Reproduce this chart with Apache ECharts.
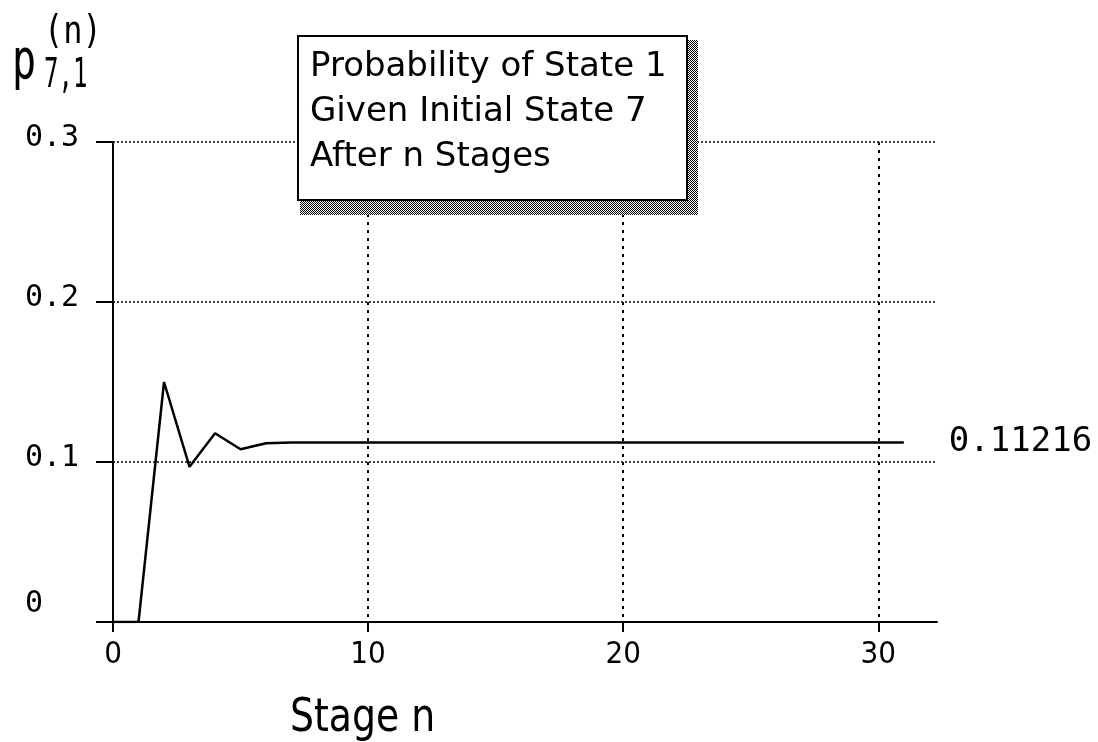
<!DOCTYPE html>
<html>
<head>
<meta charset="utf-8">
<script src="https://cdn.jsdelivr.net/npm/echarts@6/dist/echarts.min.js"></script>
<style>
html,body{margin:0;padding:0;background:#fff;}
#chart{width:1098px;height:742px;}
</style>
</head>
<body>
<div id="chart"></div>
<script>
// Data
const stages = [0,1,2,3,4,5,6,7,8,9,10,11,12,13,14,15,16,17,18,19,20,21,22,23,24,25,26,27,28,29,30,31];
const probability = [0,0,0.150,0.097,0.118,0.108,0.1117,0.11216,0.11216,0.11216,0.11216,0.11216,0.11216,0.11216,0.11216,0.11216,0.11216,0.11216,0.11216,0.11216,0.11216,0.11216,0.11216,0.11216,0.11216,0.11216,0.11216,0.11216,0.11216,0.11216,0.11216,0.11216];
const boxLines = ['Probability of State 1','Given Initial State 7','After n Stages'];
const xAxisTitle = 'Stage n';
const yTicks = [0, 0.1, 0.2, 0.3];

const mono = "'DejaVu Sans Mono', monospace";
const sans = "'DejaVu Sans', sans-serif";
const cond = "'DejaVu Sans Condensed', 'Liberation Sans Narrow', sans-serif";

// dithered shadow pattern
const pc = document.createElement('canvas');
pc.width = 2; pc.height = 2;
const pctx = pc.getContext('2d');
pctx.fillStyle = '#fff'; pctx.fillRect(0, 0, 2, 2);
pctx.fillStyle = '#000'; pctx.fillRect(0, 0, 1, 1); pctx.fillRect(1, 1, 1, 1);

const chart = echarts.init(document.getElementById('chart'));
const option = {
  animation: false,
  backgroundColor: '#fff',
  grid: {left: 113, right: 161, top: 142, bottom: 120, containLabel: false},
  xAxis: {
    type: 'value', min: 0, max: 32.3, interval: 10,
    axisLine: {show: true, lineStyle: {color: '#000', width: 2}},
    axisTick: {show: true, length: 10, lineStyle: {color: '#000', width: 2}},
    axisLabel: {color: '#000', fontFamily: cond, fontSize: 31, margin: 17, showMaxLabel: false,
      formatter: v => (v % 10 === 0 ? String(v) : '')},
    splitLine: {show: true, showMaxLine: false, lineStyle: {color: '#000', width: 2, type: [3, 5]}}
  },
  yAxis: {
    type: 'value', min: 0, max: 0.3, interval: 0.1,
    axisLine: {show: true, lineStyle: {color: '#000', width: 2}},
    axisTick: {show: true, length: 17, lineStyle: {color: '#000', width: 2}},
    axisLabel: {color: '#000', fontFamily: mono, fontSize: 30, align: 'left', margin: 88,
      formatter: v => { const t = yTicks.find(a => Math.abs(a - v) < 1e-9); return t === 0 ? '{z|0}' : '{n|' + t.toFixed(1) + '}'; },
      rich: {
        z: {fontFamily: mono, fontSize: 30, color: '#000', padding: [0, 0, 36, 0]},
        n: {fontFamily: mono, fontSize: 30, color: '#000', padding: [0, 0, 8, 0]}
      }},
    splitLine: {show: true, lineStyle: {color: '#000', width: 1.5, type: [2, 2]}}
  },
  series: [{
    type: 'line',
    data: stages.map((s, i) => [s, probability[i]]),
    showSymbol: false,
    lineStyle: {color: '#000', width: 2.5},
    itemStyle: {color: '#000'},
    endLabel: {show: true, distance: 45, color: '#000', fontFamily: mono, fontSize: 34,
      formatter: p => String(p.value[1])}
  }],
  graphic: [
    {type: 'rect', shape: {x: 300, y: 40, width: 398, height: 175}, style: {fill: {image: pc, repeat: 'repeat'}}, z: 100},
    {type: 'rect', shape: {x: 298, y: 36, width: 389, height: 164}, style: {fill: '#fff', stroke: '#000', lineWidth: 2}, z: 101},
    {type: 'text', x: 310, y: 45, z: 102, style: {text: boxLines.join('\n'), font: '34px ' + sans, lineHeight: 45, fill: '#000'}},
    {type: 'text', x: 12, y: 36, scaleY: 1.38, z: 102, style: {text: 'p', font: '40px ' + mono, fill: '#000'}},
    {type: 'text', x: 44, y: 14, scaleY: 1.2, z: 102, style: {text: '(n)', font: '32px ' + mono, fill: '#000'}},
    {type: 'text', x: 44, y: 56, scaleY: 1.7, z: 102, style: {text: '7,1', font: '24px ' + mono, fill: '#000'}},
    {type: 'text', x: 290, y: 696, scaleY: 1.1, z: 102, style: {text: xAxisTitle, font: '42px ' + cond, fill: '#000'}}
  ]
};
chart.setOption(option);
</script>
</body>
</html>
